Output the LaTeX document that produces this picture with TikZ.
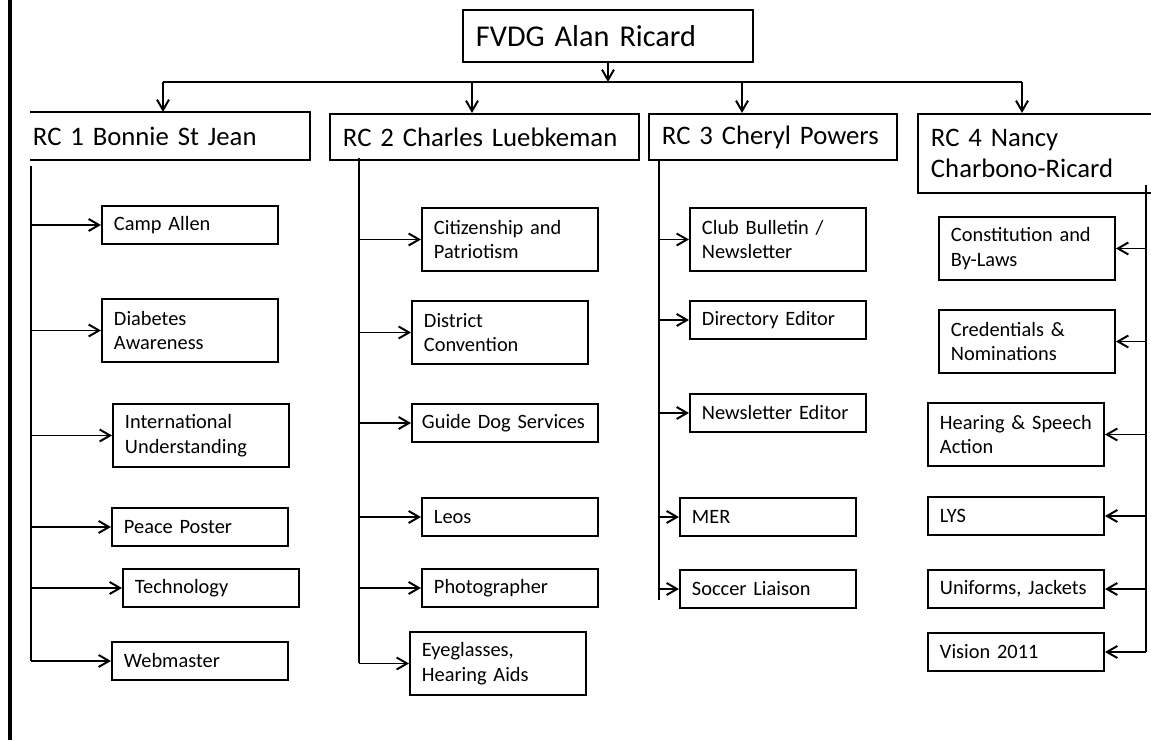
\documentclass[tikz,border=0pt]{standalone}
\usepackage{fontspec}
\setmainfont{Carlito}
\usetikzlibrary{arrows.meta}

\begin{document}
\begin{tikzpicture}[
        >={Straight Barb[length=2.6mm,width=3mm]},
        line width=1.4pt,
        head/.style={draw, anchor=north west, align=left, inner xsep=0.325cm, inner ysep=0pt,
            font=\fontsize{21.5}{24}\selectfont},
        rc/.style={draw, anchor=north west, align=left, inner xsep=0.325cm, inner ysep=0pt,
            minimum height=1.15cm, font=\fontsize{19}{21.5}\selectfont},
        duty/.style={draw, anchor=north west, align=left, inner xsep=0.3cm, inner ysep=0pt,
            text width=3.8cm, minimum height=0.95cm, font=\fontsize{14.5}{17.5}\selectfont},
        tall/.style={minimum height=1.575cm}
    ]
        \useasboundingbox (0,0) rectangle (28.775,-18.5);
        \draw[line width=2.2pt] (0.25,0) -- (0.25,-18.5);

        \node[head, text width=6.6cm, minimum height=1.3cm](fvdg) at (11.55,-0.225) {FVDG Alan Ricard};

        \node[rc, draw=none, inner xsep=0.05cm, text width=6.85cm](rc1) at (0.75,-2.8)    {RC 1 Bonnie St Jean};
        \node[rc, text width=7.075cm](rc2)                            at (8.225,-2.825)  {RC 2 Charles Luebkeman};
        \node[rc, text width=5.55cm](rc3)                             at (16.2,-2.825)   {RC 3 Cheryl Powers};
        \node[rc, text width=5.725cm, minimum height=1.975cm](rc4)    at (22.925,-2.825) {RC 4 Nancy\\Charbono-Ricard};

        % RC 1
        \node[duty](camp)       at (2.525,-5.125)  {Camp Allen};
        \node[duty, tall](diab) at (2.525,-7.45)   {Diabetes\\Awareness};
        \node[duty, tall](intl) at (2.8,-10.075)   {International\\Understanding};
        \node[duty](peace)      at (2.775,-12.675) {Peace Poster};
        \node[duty](tech)       at (3.05,-14.2)    {Technology};
        \node[duty](web)        at (2.775,-16.025) {Webmaster};

        % RC 2
        \node[duty, tall](citiz) at (10.525,-5.175) {Citizenship and\\Patriotism};
        \node[duty, tall](conv)  at (10.275,-7.5)   {District\\Convention};
        \node[duty, inner xsep=0.25cm, text width=4.15cm](guide) at (10.275,-10.075) {Guide Dog Services};
        \node[duty](leos)        at (10.525,-12.425) {Leos};
        \node[duty](photo)       at (10.525,-14.2)   {Photographer};
        \node[duty, tall](eye)   at (10.225,-15.775) {Eyeglasses,\\Hearing Aids};

        % RC 3
        \node[duty, tall](club) at (17.225,-5.175)  {Club Bulletin /\\Newsletter};
        \node[duty](direc)      at (17.225,-7.5)    {Directory Editor};
        \node[duty](news)       at (17.225,-9.825)  {Newsletter Editor};
        \node[duty](mer)        at (16.975,-12.425) {MER};
        \node[duty](soccer)     at (16.975,-14.225) {Soccer Liaison};

        % RC 4
        \node[duty, tall](const) at (23.45,-5.4)    {Constitution and\\By-Laws};
        \node[duty, tall](cred)  at (23.45,-7.725)  {Credentials \&\\Nominations};
        \node[duty, tall](hear)  at (23.175,-10.05) {Hearing \& Speech\\Action};
        \node[duty](lys)         at (23.175,-12.4)  {LYS};
        \node[duty](unif)        at (23.175,-14.225) {Uniforms, Jackets};
        \node[duty](vision)      at (23.175,-15.8)  {Vision 2011};

        \coordinate (b1)  at (4.075,-2.05);
        \coordinate (b2)  at (11.8,-2.05);
        \coordinate (b3)  at (18.55,-2.05);
        \coordinate (b4)  at (25.55,-2.05);
        \coordinate (t1)  at (0.775,-4.15);
        \coordinate (t2)  at (8.975,-3.95);
        \coordinate (t3)  at (16.475,-3.975);
        \coordinate (t3e) at (16.475,-15.0);
        \coordinate (t4)  at (28.65,-4.625);

        \draw (rc1.north west) -- (rc1.north east) -- (rc1.south east) -- (rc1.south west);
        \draw (b1) -- (b4);
        \draw (t1) -- (t1 |- web);
        \draw (t2) -- (t2 |- eye);
        \draw (t3) -- (t3e);
        \draw (t4) -- (t4 |- vision);

        \path[->]
            (fvdg) edge (fvdg.south |- b1)
            (b1) edge (b1 |- rc1.north)
            (b2) edge (b2 |- rc2.north)
            (b3) edge (b3 |- rc3.north)
            (b4) edge (b4 |- rc4.north)
            (t1 |- camp)   edge (camp)
            (t1 |- diab)   edge (diab)
            (t1 |- intl)   edge (intl)
            (t1 |- peace)  edge (peace)
            (t1 |- tech)   edge (tech)
            (t1 |- web)    edge (web)
            (t2 |- citiz)  edge (citiz)
            (t2 |- conv)   edge (conv)
            (t2 |- guide)  edge (guide)
            (t2 |- leos)   edge (leos)
            (t2 |- photo)  edge (photo)
            (t2 |- eye)    edge (eye)
            (t3 |- club)   edge (club)
            (t3 |- direc)  edge (direc)
            (t3 |- news)   edge (news)
            (t3 |- mer)    edge (mer)
            (t3 |- soccer) edge (soccer)
            (t4 |- const)  edge (const)
            (t4 |- cred)   edge (cred)
            (t4 |- hear)   edge (hear)
            (t4 |- lys)    edge (lys)
            (t4 |- unif)   edge (unif)
            (t4 |- vision) edge (vision)
            ;
    \end{tikzpicture}
\end{document}
